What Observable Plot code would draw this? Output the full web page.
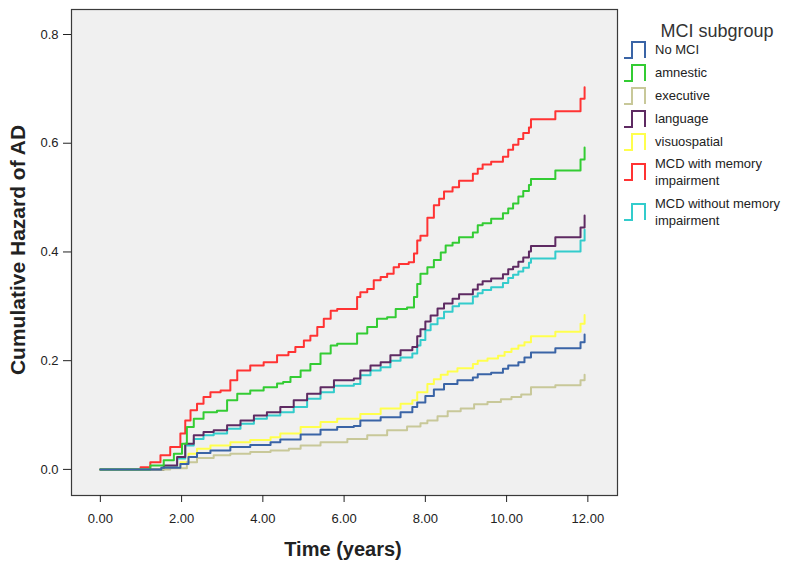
<!DOCTYPE html>
<html>
<head>
<meta charset="utf-8">
<script src="https://cdn.jsdelivr.net/npm/d3@7"></script>
<script src="https://cdn.jsdelivr.net/npm/@observablehq/plot@0.6"></script>
<style>
  body { margin: 0; background: #fff; }
  #chart { position: relative; width: 800px; height: 565px; }
</style>
</head>
<body>
<div id="chart"></div>
<script>
// ---- data (time in years, cumulative hazard) ----
const seriesNames = ["No MCI", "amnestic", "executive", "language", "visuospatial",
  "MCD with memory impairment", "MCD without memory impairment"];
const legendLines = [["No MCI"], ["amnestic"], ["executive"], ["language"], ["visuospatial"],
  ["MCD with memory", "impairment"], ["MCD without memory", "impairment"]];
const seriesColors = ["#3a64a6", "#33cc33", "#c8c899", "#5e2a62", "#ffff4d", "#ff3333", "#33cccc"];
const xTicks = [0, 2, 4, 6, 8, 10, 12];
const yTicks = [0, 0.2, 0.4, 0.6, 0.8];

const noMCI = [[0,0],[1.0,0],[1.5,0.003],[1.97,0.01],[2.17,0.023],[2.38,0.03],[2.71,0.035],[3.2,0.041],[3.69,0.045],[4.19,0.05],[4.43,0.055],[4.93,0.064],[5.42,0.073],[5.83,0.078],[6.24,0.08],[6.4,0.09],[6.9,0.096],[7.39,0.105],[7.68,0.115],[7.8,0.123],[8.0,0.135],[8.21,0.147],[8.46,0.157],[8.79,0.164],[9.17,0.169],[9.29,0.175],[9.62,0.178],[9.91,0.185],[10.04,0.191],[10.29,0.197],[10.44,0.206],[10.6,0.215],[11.2,0.223],[11.82,0.234],[11.92,0.248]];
const amnestic = [[0,0],[0.95,0],[1.23,0.007],[1.56,0.017],[1.81,0.029],[2.01,0.047],[2.13,0.078],[2.3,0.093],[2.54,0.105],[2.87,0.108],[3.12,0.127],[3.37,0.139],[3.69,0.145],[4.02,0.151],[4.35,0.158],[4.5,0.161],[4.68,0.17],[4.93,0.182],[5.17,0.194],[5.42,0.213],[5.67,0.228],[5.83,0.231],[6.32,0.25],[6.57,0.262],[6.81,0.277],[7.06,0.28],[7.27,0.295],[7.55,0.298],[7.72,0.317],[7.8,0.341],[7.88,0.36],[8.05,0.372],[8.21,0.385],[8.38,0.399],[8.5,0.412],[8.67,0.417],[8.83,0.427],[9.17,0.436],[9.29,0.449],[9.41,0.453],[9.62,0.461],[9.91,0.471],[10.04,0.48],[10.16,0.489],[10.29,0.502],[10.41,0.512],[10.55,0.523],[10.6,0.534],[11.2,0.55],[11.82,0.57],[11.92,0.592]];
const executive = [[0,0],[1.2,0],[1.72,0.002],[2.13,0.013],[2.38,0.021],[2.79,0.026],[3.2,0.029],[3.69,0.032],[4.19,0.035],[4.64,0.038],[4.93,0.044],[5.42,0.05],[6.08,0.056],[6.57,0.063],[7.06,0.072],[7.55,0.079],[7.88,0.085],[8.05,0.09],[8.3,0.098],[8.55,0.107],[8.87,0.112],[9.2,0.12],[9.53,0.124],[9.86,0.129],[10.12,0.133],[10.36,0.138],[10.6,0.151],[11.2,0.155],[11.82,0.164],[11.92,0.174]];
const language = [[0,0],[1.1,0],[1.56,0.007],[1.89,0.023],[2.09,0.047],[2.3,0.063],[2.54,0.069],[2.79,0.072],[3.12,0.081],[3.45,0.09],[3.78,0.099],[4.1,0.105],[4.43,0.115],[4.76,0.127],[5.09,0.139],[5.42,0.151],[5.75,0.164],[6.24,0.167],[6.4,0.182],[6.65,0.191],[6.9,0.197],[7.14,0.21],[7.39,0.219],[7.68,0.225],[7.8,0.245],[7.88,0.258],[8.0,0.272],[8.13,0.283],[8.3,0.296],[8.46,0.305],[8.67,0.314],[8.83,0.322],[9.17,0.331],[9.29,0.34],[9.41,0.346],[9.62,0.351],[9.91,0.359],[10.04,0.368],[10.16,0.373],[10.29,0.382],[10.41,0.39],[10.55,0.401],[10.6,0.411],[11.2,0.427],[11.82,0.445],[11.92,0.467]];
const visuospatial = [[0,0],[1.1,0],[1.56,0.003],[1.97,0.013],[2.17,0.029],[2.38,0.038],[2.71,0.044],[3.2,0.05],[3.69,0.054],[4.19,0.059],[4.43,0.066],[4.93,0.078],[5.42,0.087],[5.83,0.093],[6.4,0.102],[6.9,0.112],[7.39,0.121],[7.68,0.127],[7.8,0.142],[8.05,0.157],[8.21,0.166],[8.38,0.174],[8.55,0.18],[8.79,0.186],[9.17,0.194],[9.29,0.2],[9.53,0.204],[9.79,0.209],[9.95,0.216],[10.12,0.222],[10.29,0.228],[10.44,0.234],[10.6,0.245],[11.2,0.253],[11.82,0.268],[11.92,0.284]];
const mcdWithMemory = [[0,0],[0.85,0],[0.99,0.004],[1.23,0.013],[1.48,0.026],[1.72,0.041],[1.97,0.066],[2.09,0.09],[2.22,0.109],[2.38,0.121],[2.54,0.133],[2.71,0.142],[2.96,0.145],[3.2,0.164],[3.37,0.182],[3.69,0.191],[4.02,0.197],[4.35,0.21],[4.63,0.216],[4.8,0.225],[5.01,0.237],[5.17,0.246],[5.34,0.262],[5.5,0.277],[5.67,0.292],[5.83,0.295],[6.32,0.317],[6.4,0.326],[6.57,0.332],[6.73,0.348],[6.9,0.354],[7.06,0.36],[7.22,0.372],[7.35,0.378],[7.59,0.381],[7.72,0.397],[7.8,0.421],[7.88,0.43],[8.05,0.463],[8.21,0.486],[8.34,0.498],[8.46,0.511],[8.67,0.519],[8.83,0.531],[9.17,0.544],[9.29,0.553],[9.41,0.561],[9.62,0.566],[9.91,0.575],[10.04,0.588],[10.16,0.597],[10.29,0.608],[10.41,0.619],[10.55,0.629],[10.6,0.644],[11.2,0.659],[11.82,0.682],[11.92,0.703]];
const mcdWithoutMemory = [[0,0],[1.1,0],[1.56,0.004],[1.89,0.02],[2.09,0.044],[2.3,0.056],[2.54,0.063],[2.79,0.066],[3.12,0.075],[3.45,0.084],[3.78,0.093],[4.1,0.099],[4.43,0.105],[4.76,0.115],[5.09,0.13],[5.42,0.142],[5.75,0.154],[6.24,0.157],[6.4,0.173],[6.65,0.182],[6.9,0.188],[7.14,0.2],[7.39,0.206],[7.68,0.213],[7.8,0.228],[7.88,0.238],[8.0,0.256],[8.13,0.267],[8.3,0.278],[8.46,0.29],[8.67,0.3],[8.83,0.305],[9.17,0.318],[9.29,0.324],[9.41,0.33],[9.62,0.335],[9.91,0.343],[10.04,0.352],[10.16,0.358],[10.29,0.364],[10.41,0.371],[10.55,0.38],[10.6,0.388],[11.2,0.401],[11.82,0.421],[11.92,0.441]];

const seriesData = [noMCI, amnestic, executive, language, visuospatial, mcdWithMemory, mcdWithoutMemory];

// ---- build table ----
const rows = seriesData.flatMap((arr, i) => arr.map(([t, h]) => ({ group: seriesNames[i], t, h })));
const drawOrder = [6, 5, 4, 3, 2, 1, 0];

const font = "'Liberation Sans', Arial, sans-serif";
const chart = Plot.plot({
  width: 800,
  height: 565,
  marginLeft: 71,
  marginRight: 183,
  marginTop: 9,
  marginBottom: 70,
  style: { fontFamily: font, fontSize: "13px", background: "#fff", color: "#222" },
  x: { domain: [-0.71, 12.73] },
  y: { domain: [-0.048, 0.846] },
  color: { domain: seriesNames, range: seriesColors },
  marks: [
    Plot.frame({ fill: "#f0f0f0", stroke: null }),
    ...drawOrder.map(i => Plot.line(rows.filter(d => d.group === seriesNames[i]), {
      x: "t", y: "h", stroke: "group", strokeWidth: 2, curve: "step-after"
    })),
    Plot.frame({ stroke: "#3a3a3a", strokeWidth: 1.2 }),
    Plot.axisX({ ticks: xTicks, tickFormat: d => d.toFixed(2), tickSize: 7, tickPadding: 11, label: null, fontSize: 13 }),
    Plot.axisY({ ticks: yTicks, tickFormat: d => d.toFixed(1), tickSize: 8, tickPadding: 5, label: null, fontSize: 13 })
  ]
});
document.getElementById("chart").appendChild(chart);

// ---- axis titles and legend ----
const svg = d3.select(chart);
svg.append("text")
  .attr("x", 343).attr("y", 556)
  .attr("text-anchor", "middle")
  .style("font-family", font).style("font-size", "20px").style("font-weight", "bold").attr("fill", "#222")
  .text("Time (years)");
svg.append("text")
  .attr("transform", "translate(25,250) rotate(-90)")
  .attr("text-anchor", "middle")
  .style("font-family", font).style("font-size", "21px").style("font-weight", "bold").attr("fill", "#222")
  .text("Cumulative Hazard of AD");

const lg = svg.append("g").attr("text-anchor", "start");
lg.append("text")
  .attr("x", 717).attr("y", 37)
  .attr("text-anchor", "middle")
  .style("font-family", font).style("font-size", "18px").attr("fill", "#333")
  .text("MCI subgroup");
const iconCenters = [50, 73, 96, 119, 142, 172, 212];
legendLines.forEach((lines, i) => {
  const cy = iconCenters[i];
  lg.append("path")
    .attr("d", `M624,${cy + 8}H632V${cy - 8}H645V${cy + 8}`)
    .attr("fill", "none").attr("stroke", seriesColors[i]).attr("stroke-width", 2);
  const startY = cy + 4 - (lines.length - 1) * 8.5;
  lines.forEach((ln, j) => {
    lg.append("text")
      .attr("x", 655).attr("y", startY + j * 17)
      .attr("text-anchor", "start")
      .style("font-family", font).style("font-size", "13px").attr("fill", "#222")
      .text(ln);
  });
});
</script>
</body>
</html>
